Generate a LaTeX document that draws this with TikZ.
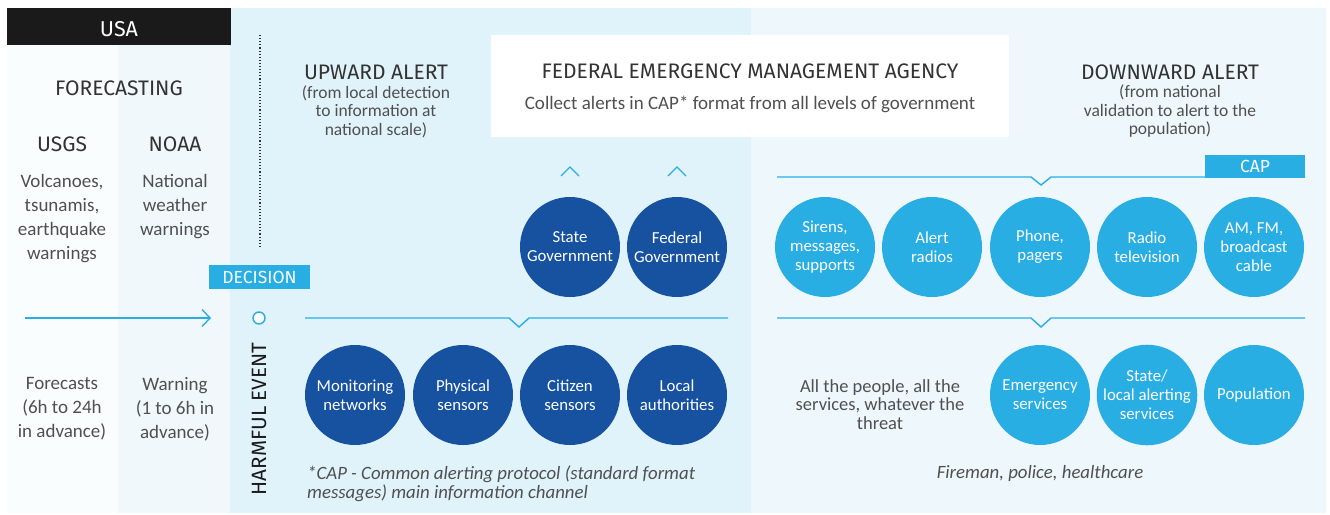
\documentclass[tikz,border=0pt]{standalone}
\usepackage{fontspec}
\setmainfont{Carlito}
\newfontfamily\hd{Fira Sans}
\usetikzlibrary{arrows.meta}
\definecolor{dblue}{HTML}{16529F}
\definecolor{cyanb}{HTML}{29AEE3}
\definecolor{pana}{HTML}{FAFDFE}
\definecolor{panb}{HTML}{F0F8FC}
\definecolor{panc}{HTML}{E0F2FA}
\definecolor{pand}{HTML}{EEF7FB}
\definecolor{txt}{HTML}{505050}
\definecolor{hdtxt}{HTML}{333333}
\definecolor{usablack}{HTML}{1A1A1A}
\begin{document}
\begin{tikzpicture}[x=1pt,y=-1pt,
  hdtext/.style={inner sep=0pt, align=center, text=hdtxt, font=\hd\fontsize{21}{24}\selectfont},
  bodytext/.style={inner sep=0pt, align=center, text=txt, font=\fontsize{19}{24}\selectfont},
  subtext/.style={inner sep=0pt, align=center, text=txt, font=\fontsize{17.5}{18.5}\selectfont},
  dcirc/.style={circle, fill=dblue, minimum size=100pt, inner sep=0pt, align=center, text=white, font=\fontsize{16.8}{19}\selectfont},
  lcirc/.style={circle, fill=cyanb, minimum size=100pt, inner sep=0pt, align=center, text=white, font=\fontsize{16.8}{19}\selectfont},
  tagbox/.style={fill=cyanb, inner sep=0pt, text=white, font=\hd\fontsize{17.5}{20}\selectfont},
  cline/.style={draw=cyanb, line width=1.4pt},
  chev/.style={draw=cyanb, line width=1.2pt}
]
\useasboundingbox (0,0) rectangle (1330,514);
\fill[white] (0,0) rectangle (1330,514);
% panels
\fill[pana] (7,45) rectangle (118,513);
\fill[panb] (118,45) rectangle (230,513);
\fill[panc] (230,8) rectangle (751,513);
\fill[pand] (751,8) rectangle (1326,513);
% USA
\node (usa) [fill=usablack, minimum width=224pt, minimum height=37pt, inner sep=0pt, text height=19pt, text depth=0pt, text=white, font=\hd\fontsize{21.5}{24}\selectfont] at (119,26.5) {USA};
% FEMA box
\node (fema) [fill=white, minimum width=518pt, minimum height=102pt, inner sep=0pt] at (750,86) {};
\node (fematitle) [hdtext] at (750,71.5) {FEDERAL EMERGENCY MANAGEMENT AGENCY};
\node (femasub) [bodytext] at (750,104.5) {Collect alerts in CAP* format from all levels of government};
% left column
\node (forecasting) [hdtext] at (119,88) {FORECASTING};
\node (usgs) [hdtext] at (62,144) {USGS};
\node (noaa) [hdtext] at (175,144) {NOAA};
\node (usgstext) [bodytext] at (62,219) {Volcanoes,\\tsunamis,\\earthquake\\warnings};
\node (noaatext) [bodytext] at (175,207) {National\\weather\\warnings};
\node (forecasts) [bodytext] at (62,409) {Forecasts\\(6h to 24h\\in advance)};
\node (warning) [bodytext] at (175,409) {Warning\\(1 to 6h in\\advance)};
% dotted line
\coordinate (dtop) at (260,35);
\coordinate (dbot) at (260,246);
\draw[dotted, line width=1.1pt, color=hdtxt] (dtop) -- (dbot);
% decision
\node (decision) [tagbox, minimum width=101pt, minimum height=24pt] at (259.5,277) {DECISION};
% timeline
\node (event) [circle, draw=cyanb, fill=white, line width=1.4pt, minimum size=12pt, inner sep=0pt] at (259,318) {};
\coordinate (tstart) at (25,318);
\coordinate (tend) at (211,318);
\draw[cline, -{Straight Barb[length=8pt,width=17pt,line width=1.4pt]}] (tstart) -- (tend);
\node (harm) [rotate=90, inner sep=0pt, text=usablack, font=\hd\fontsize{20.7}{24}\selectfont] at (259,419) {HARMFUL EVENT};
% upward alert
\node (upward) [hdtext] at (376,72.5) {UPWARD ALERT};
\node (upsub) [subtext] at (376,111.5) {(from local detection\\to information at\\national scale)};
% downward alert
\node (downward) [hdtext] at (1170,72.5) {DOWNWARD ALERT};
\node (downsub) [subtext] at (1170,111.5) {(from national\\validation to alert to the\\population)};
% separators
\draw[cline] (305,318) -- (509,318) -- (519,327) -- (529,318) -- (728,318);
\draw[cline] (777,318) -- (1031,318) -- (1041,327) -- (1051,318) -- (1305,318);
\draw[cline] (777,177) -- (1031,177) -- (1041,185) -- (1051,177) -- (1305,177);
\node (cap) [tagbox, minimum width=100pt, minimum height=23pt] at (1255,166.5) {CAP};
% up chevrons
\draw[chev] (561,176) -- (570,167) -- (579,176);
\draw[chev] (668,176) -- (677,167) -- (686,176);
% dark circles
\node (state) [dcirc] at (570,247) {State\\Government};
\node (federal) [dcirc] at (677,247) {Federal\\Government};
\node (monitor) [dcirc] at (355,395) {Monitoring\\networks};
\node (physical) [dcirc] at (463,395) {Physical\\sensors};
\node (citizen) [dcirc] at (570,395) {Citizen\\sensors};
\node (local) [dcirc] at (677,395) {Local\\authorities};
% light circles
\node (sirens) [lcirc] at (825,247) {Sirens,\\messages,\\supports};
\node (radios) [lcirc] at (932,247) {Alert\\radios};
\node (phone) [lcirc] at (1040,247) {Phone,\\pagers};
\node (radiotv) [lcirc] at (1147,247) {Radio\\television};
\node (amfm) [lcirc] at (1254,247) {AM, FM,\\broadcast\\cable};
\node (emerg) [lcirc] at (1040,395) {Emergency\\services};
\node (statelocal) [lcirc] at (1147,395) {State/\\local alerting\\services};
\node (population) [lcirc] at (1254,395) {Population};
% notes
\node (allpeople) [subtext, font=\fontsize{18.5}{18.5}\selectfont] at (880,404.5) {All the people, all the\\services, whatever the\\threat};
\node (capnote) [inner sep=0pt, align=left, anchor=west, text=txt, font=\itshape\fontsize{18.8}{19}\selectfont] at (307,483.5) {*CAP - Common alerting protocol (standard format\\messages) main information channel};
\node (fireman) [inner sep=0pt, text=txt, font=\itshape\fontsize{18.8}{19}\selectfont] at (1040,473.5) {Fireman, police, healthcare};
\end{tikzpicture}
\end{document}
